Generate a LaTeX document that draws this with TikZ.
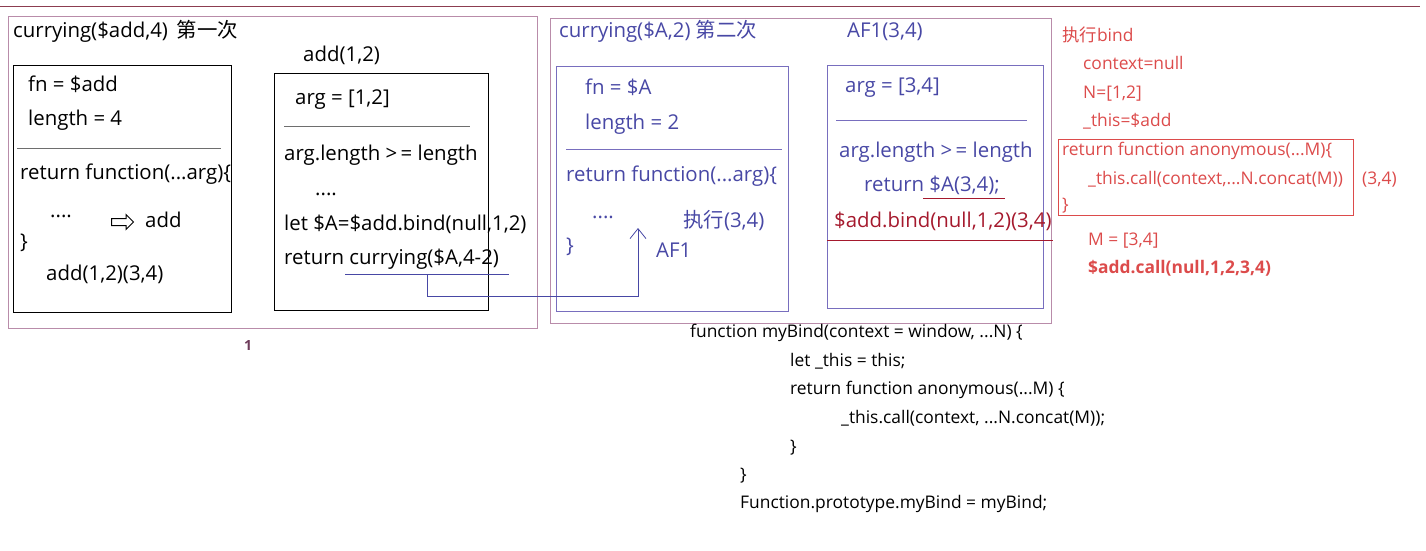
\documentclass[tikz,border=0pt]{standalone}
\usepackage{fontspec}
\setmainfont{Open Sans}
\newfontfamily\cjk{Noto Sans CJK SC}
\usetikzlibrary{arrows.meta, positioning, shapes.arrows}
\definecolor{topred}{RGB}{140,60,80}
\definecolor{framepink}{RGB}{185,140,170}
\definecolor{boxblue}{RGB}{120,110,190}
\definecolor{bluetxt}{RGB}{72,72,165}
\definecolor{darkred}{RGB}{165,25,45}
\definecolor{redtxt}{RGB}{220,75,75}
\definecolor{sepgray}{RGB}{110,110,110}
\definecolor{onecol}{RGB}{110,60,90}

\begin{document}
\begin{tikzpicture}[x=1pt, y=-1pt,
  frame/.style={draw=framepink, line width=1pt, anchor=north west, inner sep=0pt},
  box/.style={draw, line width=1.1pt, anchor=north west, inner sep=0pt},
  txt/.style={anchor=west, inner sep=0pt, text height=14pt, text depth=4pt,
    font=\fontsize{20.4}{24}\selectfont},
  code/.style={txt, font=\fontsize{17.4}{20}\selectfont},
  sep/.style={draw=sepgray, line width=1pt},
  link/.style={draw=bluetxt, line width=0.8pt}
]
  \useasboundingbox (0,0) rectangle (1426,550);
  \draw[topred, line width=1pt] (0,6) -- (1420,6);

  % first call
  \node[frame, minimum width=529pt, minimum height=312pt] (call1) at (8,16) {};
  \node[txt] (t1title) at (13,32) {currying(\$add,4)\, {\cjk 第一次}};
  \node[box, minimum width=218pt, minimum height=247pt] (boxA) at (13,65) {};
  \node[txt] (fnadd) at (28,86) {fn = \$add};
  \node[txt] (len4) at (28,120) {length = 4};
  \draw[sep] (17,148) -- (221,148);
  \node[txt] (retfn1) at (20,174) {return function(...arg)\{};
  \node[txt] (dots1) at (50,212) {....};
  \node[draw, line width=1pt, single arrow, single arrow head extend=4pt,
    inner sep=3pt, minimum height=22pt, anchor=west] (hollow) at (111,222) {};
  \node[txt] (addlbl) at (145,222) {add};
  \node[txt] (brace1) at (20,243) {\}};
  \node[txt] (callA) at (46,275) {add(1,2)(3,4)};

  \node[txt] (add12) at (303,56) {add(1,2)};
  \node[box, minimum width=214pt, minimum height=237pt] (boxB) at (274,73) {};
  \node[txt] (argB) at (295,99) {arg = [1,2]};
  \draw[sep] (284,126) -- (470,126);
  \node[txt] (lenchk1) at (284,155) {arg.length >\,= length};
  \node[txt] (dots2) at (315,190) {....};
  \node[txt] (letA) at (284,225) {let \$A=\$add.bind(null,1,2)};
  \node[txt] (retcur) at (284,259) {return currying(\$A,4-2)};
  \node[onecol, anchor=center, font=\fontsize{14}{16}\selectfont\bfseries] (one) at (248,345) {1};

  % second call
  \node[frame, minimum width=501pt, minimum height=305pt] (call2) at (550,18) {};
  \node[txt, bluetxt] (t2title) at (559,32) {currying(\$A,2) {\cjk 第二次}};
  \node[txt, bluetxt] (af1call) at (847,32) {AF1(3,4)};
  \node[box, draw=boxblue, minimum width=232pt, minimum height=245pt] (boxC) at (556,66) {};
  \node[txt, bluetxt] (fnA) at (585,89) {fn = \$A};
  \node[txt, bluetxt] (len2) at (585,124) {length = 2};
  \draw[boxblue, line width=1pt] (566,149) -- (782,149);
  \node[txt, bluetxt] (retfn2) at (566,176) {return function(...arg)\{};
  \node[txt, bluetxt] (dots3) at (592,213) {....};
  \node[txt, bluetxt] (exec34) at (683,222) {{\cjk 执行}(3,4)};
  \node[txt, bluetxt] (brace2) at (566,247) {\}};
  \node[txt, bluetxt] (af1lbl) at (656,252) {AF1};

  \node[box, draw=boxblue, minimum width=216pt, minimum height=243pt] (boxD) at (827,65) {};
  \node[txt, bluetxt] (argD) at (845,87) {arg = [3,4]};
  \draw[boxblue, line width=1pt] (836,120) -- (1027,120);
  \node[txt, bluetxt] (lenchk2) at (839,152) {arg.length >\,= length};
  \node[txt, bluetxt] (retA) at (864,186) {return \$A(3,4);};
  \draw[darkred, line width=0.8pt] (923,198) -- (1005,198);
  \node[txt, darkred] (bindcall) at (834,222) {\$add.bind(null,1,2)(3,4)};
  \draw[darkred, line width=1pt] (827,240) -- (1053,240);

  % bind
  \node[code, redtxt] (bindhd) at (1062,36) {{\cjk 执行}bind};
  \node[code, redtxt] (ctx) at (1083,64) {context=null};
  \node[code, redtxt] (nlist) at (1083,93) {N=[1,2]};
  \node[code, redtxt] (thisadd) at (1083,121) {\_this=\$add};
  \node[draw=redtxt, line width=1pt, anchor=north west, inner sep=0pt,
    minimum width=295pt, minimum height=76pt] (anonbox) at (1058,139) {};
  \node[code, redtxt] (anon) at (1062,150) {return function anonymous(...M)\{};
  \node[code, redtxt] (thiscall) at (1088,179) {\_this.call(context,...N.concat(M))};
  \node[code, redtxt] (anonend) at (1062,205) {\}};
  \node[code, redtxt] (args34) at (1362,179) {(3,4)};
  \node[code, redtxt] (mlist) at (1088,240) {M = [3,4]};
  \node[code, redtxt, font=\fontsize{17.4}{20}\selectfont\bfseries] (addcall) at (1088,268) {\$add.call(null,1,2,3,4)};

  % myBind source
  \node[code] (src1) at (690,332) {function myBind(context = window, ...N) \{};
  \node[code] (src2) at (790,361) {let \_this = this;};
  \node[code] (src3) at (790,389) {return function anonymous(...M) \{};
  \node[code] (src4) at (841,418) {\_this.call(context, ...N.concat(M));};
  \node[code] (src5) at (790,447) {\}};
  \node[code] (src6) at (740,475) {\}};
  \node[code] (src7) at (740,503) {Function.prototype.myBind = myBind;};

  \coordinate (tap) at (427,274);
  \coordinate (af1tip) at (638,228);
  \draw[link] (345,274) -- (509,274);
  \draw[link, -{Straight Barb[length=10pt, width=16pt]}] (tap) -- ++(0,22) -| (af1tip);
\end{tikzpicture}
\end{document}
